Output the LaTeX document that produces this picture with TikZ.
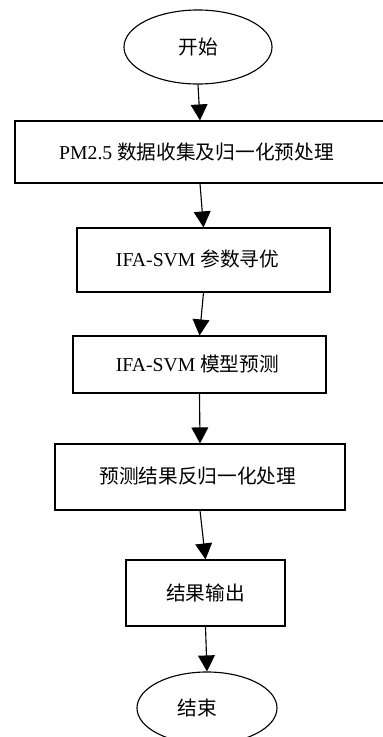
\documentclass[tikz,border=0pt]{standalone}
\usepackage{fontspec}
\setmainfont{Liberation Serif}
\newfontfamily\cjk{Noto Sans CJK SC}
\usepackage{tikz}
\usetikzlibrary{shapes.geometric,arrows.meta}
\tikzset{
  stepbox/.style={draw=black, line width=0.8pt, inner sep=0pt, font=\fontsize{14}{16}\selectfont},
  term/.style={ellipse, draw=black, line width=0.8pt, inner sep=0pt, font=\fontsize{14}{16}\selectfont},
  arr/.style={draw=black, line width=0.8pt, -{Triangle[length=4mm, width=4.2mm]}},
}
\begin{document}
\begin{tikzpicture}[x=0.025cm, y=-0.025cm]
  \useasboundingbox (0,0) rectangle (382,737);

  % terminals and process steps
  \node[term, minimum width=3.7cm, minimum height=1.85cm] (start) at (198,47) {\cjk{开始}};
  \node[stepbox, minimum width=9.25cm, minimum height=1.55cm] (collect) at (200,152) {\raisebox{1.5pt}{PM2.5 \cjk{数据收集及归一化预处理}}\kern5pt};
  \node[stepbox, minimum width=6.325cm, minimum height=1.6cm] (optim) at (203.5,260) {\raisebox{3pt}{IFA-SVM \cjk{参数寻优}}\kern8.5pt};
  \node[stepbox, minimum width=6.325cm, minimum height=1.425cm] (predict) at (199.5,364.5) {\raisebox{1pt}{IFA-SVM \cjk{模型预测}}\kern3pt};
  \node[stepbox, minimum width=7.25cm, minimum height=1.65cm] (denorm) at (200,477) {\raisebox{3pt}{\cjk{预测结果反归一化处理}}\kern3pt};
  \node[stepbox, minimum width=3.975cm, minimum height=1.65cm] (output) at (205.5,593) {\cjk{结果输出}};
  \node[term, minimum width=3.5cm, minimum height=1.8cm] (stop) at (207,708) {\raisebox{-2pt}{\cjk{结束}}\kern13.5pt};

  % connectors
  \draw[arr] (start.south) -- (collect.north);
  \draw[arr] (collect.south) -- (optim.north);
  \draw[arr] (optim.south) -- (predict.north);
  \draw[arr] (predict.south) -- (denorm.north);
  \draw[arr] (denorm.south) -- (output.north);
  \draw[arr] (output.south) -- (stop.north);
\end{tikzpicture}
\end{document}
